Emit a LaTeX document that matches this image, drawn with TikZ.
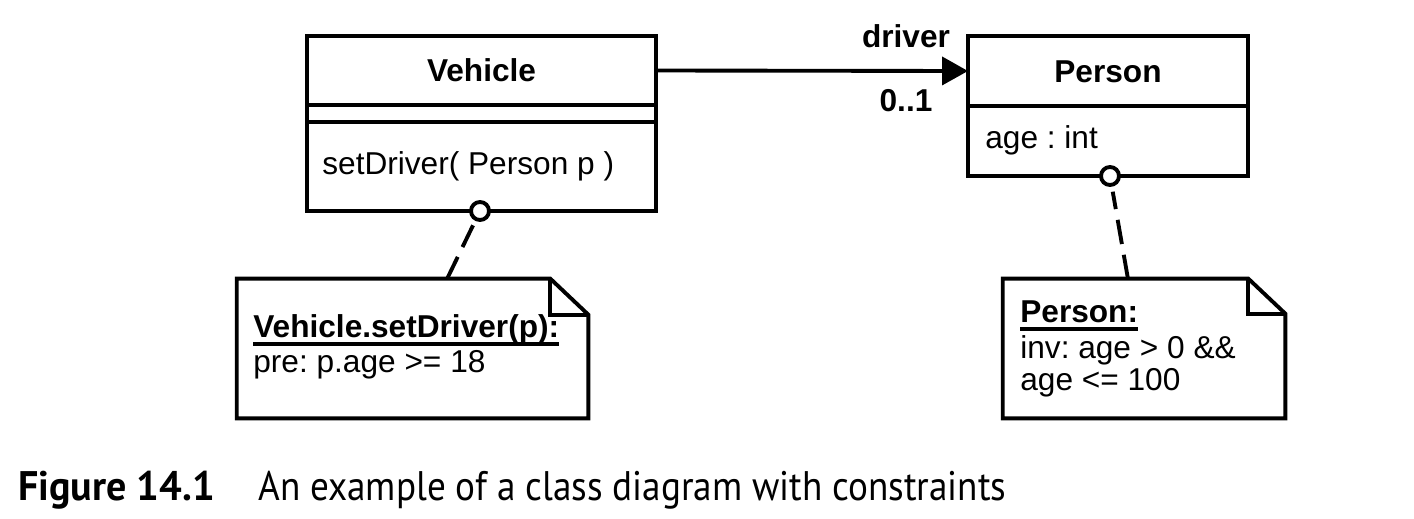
\documentclass[tikz,border=0pt]{standalone}
\usepackage{fontspec}
\setmainfont{Liberation Sans}
\newfontfamily\capfont[FakeStretch=0.9]{PT Sans}
\newfontfamily\capboldfont[FakeStretch=0.97]{PT Sans Bold}
\usetikzlibrary{arrows.meta, positioning}

\tikzset{
  umlline/.style={line width=2.2pt},
  compart/.style={draw, umlline, inner sep=0pt, outer sep=0pt, minimum width=#1},
  txt/.style={inner sep=0pt, font=\fontsize{18}{21}\selectfont},
  txtb/.style={inner sep=0pt, font=\fontsize{18}{21}\selectfont\bfseries},
  pin/.style={draw, umlline, circle, fill=white, minimum size=0.36cm, inner sep=0pt},
  notelink/.style={umlline, dash pattern=on 14pt off 6.2pt, shorten >=0.1cm},
  capt/.style={inner sep=0pt, anchor=base west, font=\capfont\fontsize{23.5}{28}\selectfont}
}
\newcommand{\ulbf}[1]{\setbox0=\hbox{#1}\rlap{\rule[-0.27em]{\wd0}{0.1em}}\box0}
\frenchspacing

\begin{document}
\begin{tikzpicture}[x=0.02cm, y=-0.02cm]
  \useasboundingbox (0,0) rectangle (1414,518);

  % class Vehicle
  \node[compart=6.98cm, minimum height=1.38cm] (vtitle) at (481.5,70.5) {};
  \node[compart=6.98cm, minimum height=0.34cm, below=0pt of vtitle] (vattr) {};
  \node[compart=6.98cm, minimum height=1.78cm, below=0pt of vattr] (vops) {};
  \node[txtb, anchor=base] (vname) at (481.5,81) {Vehicle};
  \node[txt, anchor=base west] (vop) at (322,174) {setDriver( Person p )};

  % class Person
  \node[compart=5.6cm, minimum height=1.4cm] (ptitle) at (1108,71) {};
  \node[compart=5.6cm, minimum height=1.4cm, below=0pt of ptitle] (pattr) {};
  \node[txtb, anchor=base] (pname) at (1108,82) {Person};
  \node[txt, anchor=base west] (page) at (985,148) {age : int};

  % association
  \draw[umlline, -{Triangle[length=0.52cm, width=0.56cm]}] (vtitle.east) -- (ptitle.west);
  \node[txtb, anchor=base] (role) at (906,47) {driver};
  \node[txtb, anchor=base] (mult) at (906,111) {0..1};

  % notes
  \node[minimum width=7.02cm, minimum height=2.78cm, inner sep=0pt] (vnote) at (412.5,348.5) {};
  \draw[umlline] (vnote.north west) -- ([xshift=-0.76cm]vnote.north east)
    -- ([yshift=-0.72cm]vnote.north east) -- (vnote.south east) -- (vnote.south west) -- cycle;
  \draw[umlline] ([xshift=-0.76cm]vnote.north east) |- ([yshift=-0.72cm]vnote.north east);
  \node[txtb, anchor=base west] (vpre1) at (253,337) {\ulbf{Vehicle.setDriver(p):}};
  \node[txt, anchor=base west] (vpre2) at (253,372) {pre: p.age >= 18};

  \node[minimum width=5.64cm, minimum height=2.78cm, inner sep=0pt] (pnote) at (1144,348.5) {};
  \draw[umlline] (pnote.north west) -- ([xshift=-0.74cm]pnote.north east)
    -- ([yshift=-0.7cm]pnote.north east) -- (pnote.south east) -- (pnote.south west) -- cycle;
  \draw[umlline] ([xshift=-0.74cm]pnote.north east) |- ([yshift=-0.7cm]pnote.north east);
  \node[txtb, anchor=base west] (pinv1) at (1020,322) {\ulbf{Person:}};
  \node[txt, anchor=base west] (pinv2) at (1020,358) {inv: age > 0 \&\&};
  \node[txt, anchor=base west] (pinv3) at (1020,390) {age <= 100};

  % anchors of the notes
  \node[pin] (vpin) at (480,211) {};
  \node[pin] (ppin) at (1110,176) {};
  \coordinate (vnotetop) at (447,279);
  \coordinate (pnotetop) at (1128,279);
  \draw[notelink] (vnotetop) -- (vpin);
  \draw[notelink] (pnotetop) -- (ppin);

  % caption
  \node[capt, font=\capboldfont\fontsize{23.5}{28}\selectfont] (capnum) at (18,500) {Figure 14.1};
  \node[capt] (captext) at (258,500) {An example of a class diagram with constraints};
\end{tikzpicture}
\end{document}
